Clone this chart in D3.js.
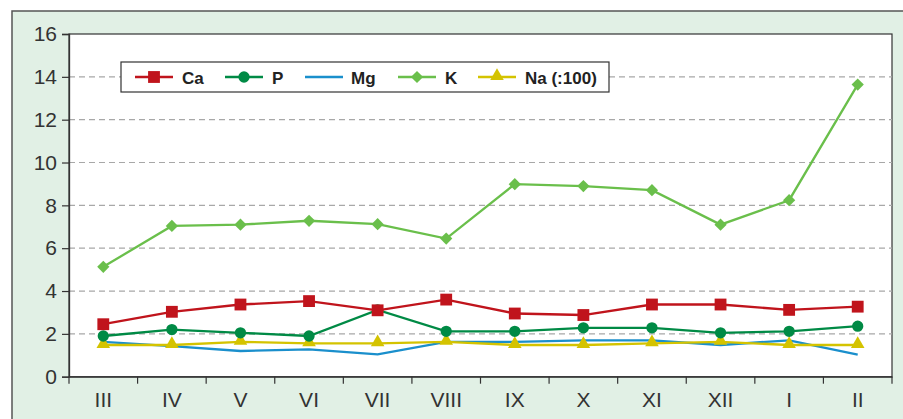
<!DOCTYPE html>
<html><head><meta charset="utf-8">
<script src="https://cdn.jsdelivr.net/npm/d3@7"></script>
<style>body{margin:0;background:#fff}svg{display:block}</style>
</head><body>
<svg id="c" width="903" height="419"></svg>
<script>
const months = ["III","IV","V","VI","VII","VIII","IX","X","XI","XII","I","II"];
const ca = [2.45,3.03,3.37,3.53,3.1,3.6,2.95,2.88,3.37,3.37,3.12,3.27];
const p  = [1.9,2.2,2.05,1.9,3.12,2.12,2.12,2.28,2.28,2.05,2.12,2.36];
const mg = [1.63,1.43,1.2,1.28,1.04,1.63,1.63,1.7,1.7,1.48,1.7,1.03];
const k  = [5.13,7.04,7.1,7.28,7.12,6.45,8.99,8.9,8.71,7.1,8.24,13.64];
const na = [1.48,1.48,1.63,1.56,1.56,1.63,1.48,1.48,1.56,1.63,1.48,1.48];
const yTicks = [0,2,4,6,8,10,12,14,16];
const seriesNames = ["Ca","P","Mg","K","Na (:100)"];

const series = [
  {name:seriesNames[0], values:ca, color:"#c0141c", sym:d3.symbolSquare, size:140, rot:0},
  {name:seriesNames[1], values:p,  color:"#008a45", sym:d3.symbolCircle, size:100, rot:0},
  {name:seriesNames[2], values:mg, color:"#1a8fcc", sym:null},
  {name:seriesNames[3], values:k,  color:"#6abf4b", sym:d3.symbolSquare, size:75, rot:45},
  {name:seriesNames[4], values:na, color:"#d4c300", sym:d3.symbolTriangle, size:80, rot:0}
];

const svg = d3.select("#c");
const L=69, T=34, R=892, B=376.7;
const FONT = "Arial, 'Liberation Sans', sans-serif";
svg.append("rect").attr("x",12).attr("y",11).attr("width",950).attr("height",450)
  .attr("fill","#e1f0e5").attr("stroke","#555").attr("stroke-width",1.5);
svg.append("rect").attr("x",L).attr("y",T).attr("width",R-L).attr("height",B-T)
  .attr("fill","#fff").attr("stroke","#333").attr("stroke-width",1.2);

const x = d3.scaleBand().domain(months).range([L,R]).padding(0);
const y = d3.scaleLinear().domain([0,16]).range([B,T]);

svg.append("g").selectAll("line").data(yTicks.filter(v=>v>0&&v<16)).join("line")
  .attr("x1",L).attr("x2",R).attr("y1",d=>y(d)).attr("y2",d=>y(d))
  .attr("stroke","#a8a8a8").attr("stroke-width",1.2).attr("stroke-dasharray","6,4");

const ya = svg.append("g").attr("transform",`translate(${L},0)`)
  .call(d3.axisLeft(y).tickValues(yTicks).tickSize(7).tickPadding(5));
ya.select(".domain").attr("stroke","#333").attr("stroke-width",1.3);
ya.selectAll(".tick line").attr("stroke","#333").attr("stroke-width",1.2);
ya.selectAll("text").attr("font-family",FONT).attr("font-size",21).attr("fill","#333");

const xa = svg.append("g").attr("transform",`translate(0,${B})`)
  .call(d3.axisBottom(x).tickSize(0).tickPadding(15));
xa.select(".domain").attr("stroke","#333").attr("stroke-width",1.3);
xa.selectAll("text").attr("font-family",FONT).attr("font-size",21).attr("fill","#333");
svg.append("g").selectAll("line").data(months.concat(["end"])).join("line")
  .attr("x1",(d,i)=>L+i*x.bandwidth()).attr("x2",(d,i)=>L+i*x.bandwidth())
  .attr("y1",B).attr("y2",B+7).attr("stroke","#333").attr("stroke-width",1.2);

const line = d3.line().x((d,i)=>x(months[i])+x.bandwidth()/2).y(d=>y(d));
const order = [2,3,4,1,0];
order.forEach(si=>{
  const s = series[si];
  svg.append("path").attr("d",line(s.values)).attr("fill","none")
    .attr("stroke",s.color).attr("stroke-width",2.3);
  if(s.sym){
    svg.append("g").selectAll("path").data(s.values).join("path")
      .attr("transform",(d,i)=>`translate(${x(months[i])+x.bandwidth()/2},${y(d) + (s.sym===d3.symbolTriangle?-1:0)}) rotate(${s.rot})`)
      .attr("d",d3.symbol(s.sym,s.size)).attr("fill",s.color);
  }
});

const lg = svg.append("g");
lg.append("rect").attr("x",121).attr("y",62).attr("width",488).attr("height",30)
  .attr("fill","#fff").attr("stroke","#333").attr("stroke-width",1.2);
const lx = [135,225,305,398,478];
series.forEach((s,i)=>{
  const g = lg.append("g");
  g.append("line").attr("x1",lx[i]).attr("x2",lx[i]+38).attr("y1",77).attr("y2",77)
    .attr("stroke",s.color).attr("stroke-width",2.3);
  if(s.sym) g.append("path").attr("transform",`translate(${lx[i]+19},${77+(s.sym===d3.symbolTriangle?-1:0)}) rotate(${s.rot})`)
    .attr("d",d3.symbol(s.sym,s.size)).attr("fill",s.color);
  g.append("text").attr("x",lx[i]+(i==2?46:47)).attr("y",84).text(s.name)
    .attr("font-family",FONT).attr("font-weight","bold")
    .attr("font-size",17).attr("fill","#222");
});
</script>
</body></html>
